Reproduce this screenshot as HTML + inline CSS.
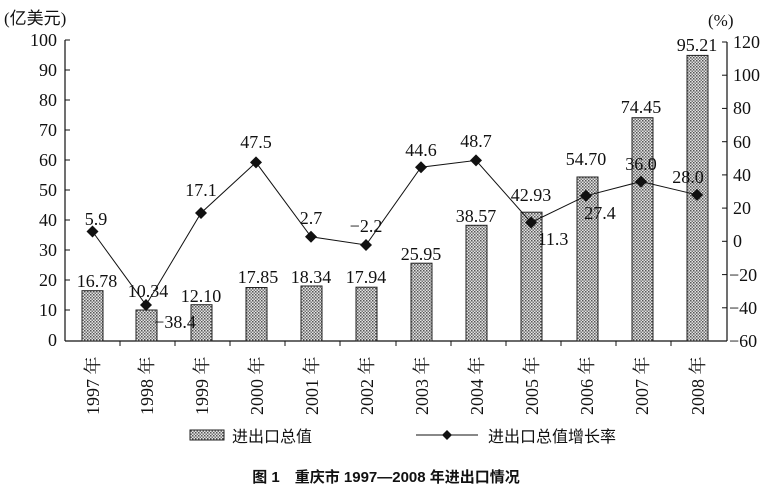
<!DOCTYPE html>
<html><head><meta charset="utf-8"><style>
html,body{margin:0;padding:0;background:#fff;}
svg{display:block;}
text{font-family:"Liberation Serif","Noto Serif CJK SC",serif;fill:#111;}
.c{font-family:"Liberation Serif","Noto Sans CJK SC",serif;}
</style></head><body>
<svg width="772" height="496" viewBox="0 0 772 496" xmlns="http://www.w3.org/2000/svg">
<defs>
<pattern id="h" width="3" height="3" patternUnits="userSpaceOnUse">
<rect width="3" height="3" fill="#e4e4e4"/>
<rect x="0" y="0" width="1.5" height="1.5" fill="#555"/>
<rect x="1.5" y="1.5" width="1.5" height="1.5" fill="#777"/>
</pattern>
</defs>
<text x="4" y="24" font-size="17" class="c">(亿美元)</text>
<text x="708" y="26" font-size="17">(%)</text>
<!-- axes -->
<g stroke="#111" stroke-width="1.2" fill="none">
<line x1="65" y1="40" x2="65" y2="341"/>
<line x1="727" y1="42" x2="727" y2="341"/>
<line x1="65" y1="341" x2="727" y2="341"/>
</g>
<g stroke="#111" stroke-width="1">
<line x1="65" y1="40" x2="70" y2="40"/><line x1="65" y1="70" x2="70" y2="70"/><line x1="65" y1="100" x2="70" y2="100"/><line x1="65" y1="130" x2="70" y2="130"/><line x1="65" y1="160" x2="70" y2="160"/><line x1="65" y1="190" x2="70" y2="190"/><line x1="65" y1="220" x2="70" y2="220"/><line x1="65" y1="250" x2="70" y2="250"/><line x1="65" y1="280" x2="70" y2="280"/><line x1="65" y1="310" x2="70" y2="310"/>
<line x1="722" y1="42" x2="727" y2="42"/><line x1="722" y1="75.2" x2="727" y2="75.2"/><line x1="722" y1="108.4" x2="727" y2="108.4"/><line x1="722" y1="141.7" x2="727" y2="141.7"/><line x1="722" y1="174.9" x2="727" y2="174.9"/><line x1="722" y1="208.1" x2="727" y2="208.1"/><line x1="722" y1="241.3" x2="727" y2="241.3"/><line x1="722" y1="274.6" x2="727" y2="274.6"/><line x1="722" y1="307.8" x2="727" y2="307.8"/>
<line x1="120" y1="341" x2="120" y2="346"/><line x1="175" y1="341" x2="175" y2="346"/><line x1="230" y1="341" x2="230" y2="346"/><line x1="285" y1="341" x2="285" y2="346"/><line x1="340" y1="341" x2="340" y2="346"/><line x1="396" y1="341" x2="396" y2="346"/><line x1="451" y1="341" x2="451" y2="346"/><line x1="506" y1="341" x2="506" y2="346"/><line x1="561" y1="341" x2="561" y2="346"/><line x1="616" y1="341" x2="616" y2="346"/><line x1="671" y1="341" x2="671" y2="346"/>
</g>
<g font-size="18" text-anchor="end">
<text x="57" y="46">100</text><text x="57" y="76">90</text><text x="57" y="106">80</text><text x="57" y="136">70</text><text x="57" y="166">60</text><text x="57" y="196">50</text><text x="57" y="226">40</text><text x="57" y="256">30</text><text x="57" y="286">20</text><text x="57" y="316">10</text><text x="57" y="346">0</text>
</g>
<g font-size="18" text-anchor="start">
<text x="733" y="48">120</text><text x="733" y="81">100</text><text x="733" y="114">80</text><text x="733" y="148">60</text><text x="733" y="181">40</text><text x="733" y="214">20</text><text x="733" y="247">0</text><text x="729" y="281">−20</text><text x="729" y="314">−40</text><text x="729" y="347">−60</text>
</g>
<!-- bars -->
<g fill="url(#h)" stroke="#222" stroke-width="1">
<rect x="82" y="290.7" width="21" height="50.3"/>
<rect x="136" y="310" width="21" height="31"/>
<rect x="191" y="304.7" width="21" height="36.3"/>
<rect x="246" y="287.5" width="21" height="53.5"/>
<rect x="301" y="286" width="21" height="55"/>
<rect x="356" y="287.2" width="21" height="53.8"/>
<rect x="411" y="263.2" width="21" height="77.8"/>
<rect x="466" y="225.3" width="21" height="115.7"/>
<rect x="521" y="212.2" width="21" height="128.8"/>
<rect x="577" y="177" width="21" height="164"/>
<rect x="632" y="117.7" width="21" height="223.3"/>
<rect x="687" y="55.4" width="21" height="285.6"/>
</g>
<!-- line -->
<polyline fill="none" stroke="#111" stroke-width="1" points="92.5,231.5 146,305 201,213 256,162.4 311,236.8 366,245 421,167.2 476,160.4 531,222.5 586,195.8 641,181.5 697,194.8"/>
<g fill="#111">
<path d="M92.5,225.5l6,6-6,6-6-6z"/><path d="M146,299l6,6-6,6-6-6z"/><path d="M201,207l6,6-6,6-6-6z"/><path d="M256,156.4l6,6-6,6-6-6z"/><path d="M311,230.8l6,6-6,6-6-6z"/><path d="M366,239l6,6-6,6-6-6z"/><path d="M421,161.2l6,6-6,6-6-6z"/><path d="M476,154.4l6,6-6,6-6-6z"/><path d="M531,216.5l6,6-6,6-6-6z"/><path d="M586,189.8l6,6-6,6-6-6z"/><path d="M641,175.5l6,6-6,6-6-6z"/><path d="M697,188.8l6,6-6,6-6-6z"/>
</g>
<g font-size="18" text-anchor="middle">
<text x="97" y="287">16.78</text><text x="148" y="297">10.34</text><text x="201" y="302">12.10</text><text x="258" y="283">17.85</text><text x="311" y="283">18.34</text><text x="366" y="283">17.94</text><text x="421" y="260">25.95</text><text x="476" y="222">38.57</text><text x="531" y="201">42.93</text><text x="586" y="165">54.70</text><text x="641" y="113">74.45</text><text x="697" y="51">95.21</text>
<text x="96" y="225">5.9</text><text x="175" y="328">−38.4</text><text x="201" y="196">17.1</text><text x="256" y="148">47.5</text><text x="311" y="224">2.7</text><text x="366" y="232">−2.2</text><text x="421" y="156">44.6</text><text x="476" y="147">48.7</text><text x="553" y="245">11.3</text><text x="600" y="219">27.4</text><text x="641" y="170">36.0</text><text x="688" y="183">28.0</text>
</g>
<!-- x labels -->
<g font-size="18" class="c">
<text transform="translate(99,415) rotate(-90)">1997 年</text>
<text transform="translate(153,415) rotate(-90)">1998 年</text>
<text transform="translate(208,415) rotate(-90)">1999 年</text>
<text transform="translate(263,415) rotate(-90)">2000 年</text>
<text transform="translate(318,415) rotate(-90)">2001 年</text>
<text transform="translate(373,415) rotate(-90)">2002 年</text>
<text transform="translate(428,415) rotate(-90)">2003 年</text>
<text transform="translate(483,415) rotate(-90)">2004 年</text>
<text transform="translate(538,415) rotate(-90)">2005 年</text>
<text transform="translate(593,415) rotate(-90)">2006 年</text>
<text transform="translate(648,415) rotate(-90)">2007 年</text>
<text transform="translate(704,415) rotate(-90)">2008 年</text>
</g>
<!-- legend -->
<rect x="190" y="430" width="34" height="10" fill="url(#h)" stroke="#222"/>
<text x="232" y="442" font-size="16" class="c">进出口总值</text>
<line x1="416" y1="435" x2="478" y2="435" stroke="#111"/>
<path d="M447,430l5,5-5,5-5-5z" fill="#111"/>
<text x="488" y="442" font-size="16" class="c">进出口总值增长率</text>
<text x="386" y="482" font-size="15" text-anchor="middle" font-weight="bold" style="font-family:'Liberation Sans','Noto Sans CJK SC',sans-serif">图 1　重庆市 1997—2008 年进出口情况</text>
</svg>
</body></html>
